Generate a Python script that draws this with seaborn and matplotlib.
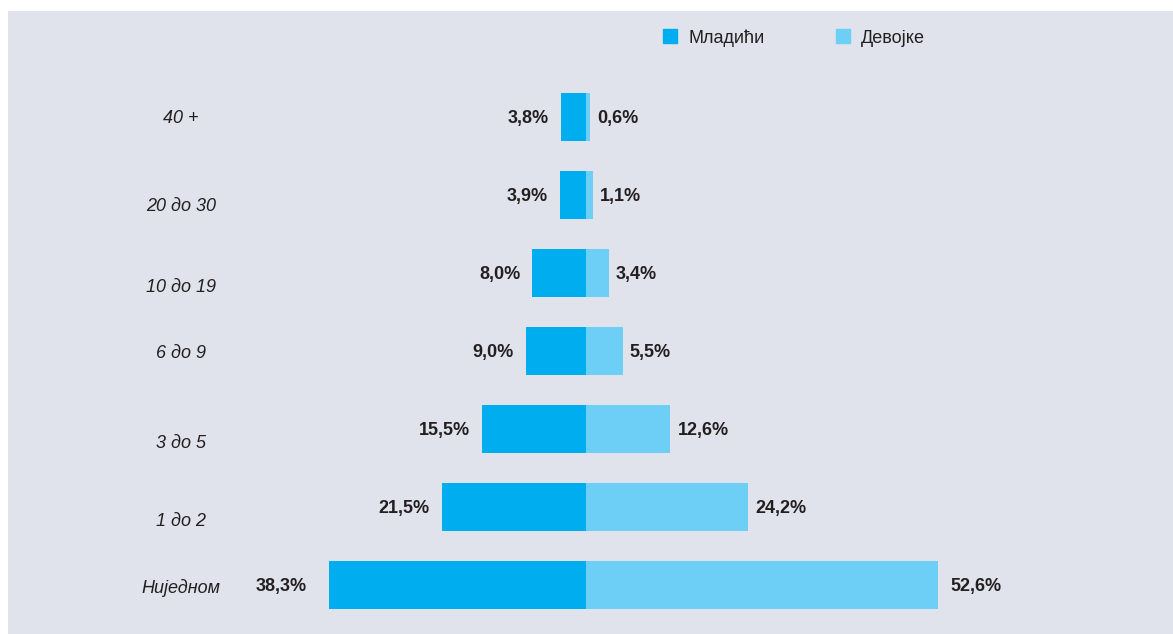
import pandas as pd
import matplotlib.pyplot as plt
import seaborn as sns
from matplotlib.patches import Rectangle
from matplotlib.lines import Line2D

# data (percent)
categories = ['40 +', '20 до 30', '10 до 19', '6 до 9', '3 до 5', '1 до 2', 'Ниједном']
mladici = [3.8, 3.9, 8.0, 9.0, 15.5, 21.5, 38.3]
devojke = [0.6, 1.1, 3.4, 5.5, 12.6, 24.2, 52.6]
series_names = ['Младићи', 'Девојке']

# layout (pixels of the 1173x634 picture)
W, H = 1173, 634
panel = (8, 11, 1173, 634)
x_zero, px_per_pct = 586, 6.7
row0, row_step = 117, 78
label_x = 181
label_dy = [0, 10, 13, 1, 12, 12, 1]  # category labels sit a bit off the bar centres
gap_left = [12, 12, 12, 12, 12, 12, 23]
gap_right = [7, 7, 7, 7, 7, 7, 12]

c_dark = '#00AEEF'
c_light = '#6DCFF6'
bg = '#E0E3EC'
txt = '#231F20'

sns.set_theme(style='white')
plt.rcParams['font.family'] = ['Liberation Sans', 'DejaVu Sans']

df = pd.DataFrame({'kat': categories, 'm': [-v for v in mladici], 'd': devojke})

fig = plt.figure(figsize=(W / 100, H / 100), dpi=100, facecolor='white')
fig.patches.append(Rectangle((panel[0] / W, 1 - panel[3] / H),
                             (panel[2] - panel[0]) / W, (panel[3] - panel[1]) / H,
                             transform=fig.transFigure, facecolor=bg, edgecolor='none', zorder=-5))

ax = fig.add_axes([panel[0] / W, 1 - panel[3] / H, (panel[2] - panel[0]) / W, (panel[3] - panel[1]) / H])
ax.set_facecolor('none')

sns.barplot(data=df, x='m', y='kat', order=categories, color=c_dark, width=48 / 78,
            saturation=1, ax=ax, orient='h', linewidth=0)
sns.barplot(data=df, x='d', y='kat', order=categories, color=c_light, width=48 / 78,
            saturation=1, ax=ax, orient='h', linewidth=0)

ax.set_xlim((panel[0] - x_zero) / px_per_pct, (panel[2] - x_zero) / px_per_pct)
ax.set_ylim((panel[3] - row0) / row_step, (panel[1] - row0) / row_step)
ax.axis('off')

fmt = lambda v: f'{v:.1f}%'.replace('.', ',')
for i, (m, d) in enumerate(zip(mladici, devojke)):
    ax.text(-m - gap_left[i] / px_per_pct, i, fmt(m), ha='right', va='center_baseline',
            fontsize=13, fontweight='bold', color=txt)
    ax.text(d + gap_right[i] / px_per_pct, i, fmt(d), ha='left', va='center_baseline',
            fontsize=13, fontweight='bold', color=txt)
    ax.text((label_x - x_zero) / px_per_pct, i + label_dy[i] / row_step, categories[i],
            ha='center', va='center_baseline', fontsize=13, style='italic', color=txt)

handles = [Line2D([], [], marker='s', linestyle='none', markersize=10.5,
                  markerfacecolor=c, markeredgecolor=c) for c in (c_dark, c_light)]
fig.legend(handles, series_names, loc='center left', bbox_to_anchor=(653 / W, 1 - 38 / H),
           ncol=2, frameon=False, fontsize=13, handlelength=0.9, handletextpad=0.55,
           columnspacing=3.9, borderpad=0, labelcolor=txt)

fig.savefig('out.png', dpi=100, facecolor='white')
